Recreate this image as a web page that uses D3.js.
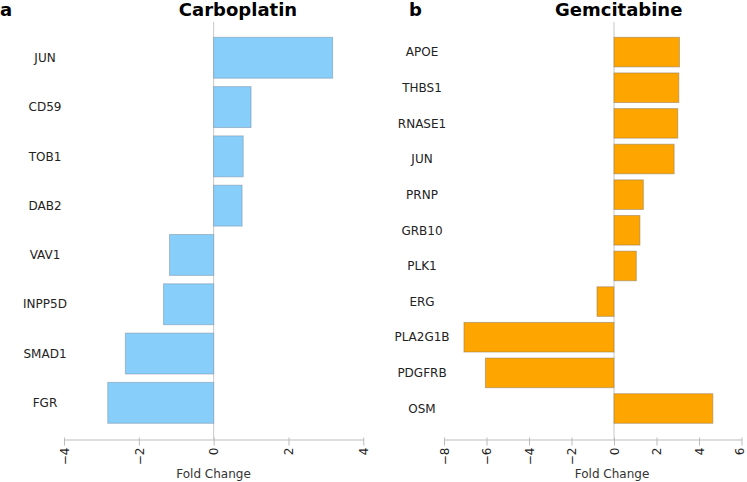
<!DOCTYPE html>
<html>
<head>
<meta charset="utf-8">
<script src="https://cdn.jsdelivr.net/npm/d3@7"></script>
<style>
  html, body { margin: 0; padding: 0; background: #fff; }
  text { font-family: "DejaVu Sans", Verdana, sans-serif; }
</style>
</head>
<body>
<svg id="chart" width="747" height="482"></svg>
<script>
// ---- data ----
const carboGenes = ["JUN", "CD59", "TOB1", "DAB2", "VAV1", "INPP5D", "SMAD1", "FGR"];
const carboValues = [3.18, 1.0, 0.79, 0.76, -1.18, -1.34, -2.36, -2.83];
const carboTicks = [-4, -2, 0, 2, 4];

const gemGenes = ["APOE", "THBS1", "RNASE1", "JUN", "PRNP", "GRB10", "PLK1", "ERG", "PLA2G1B", "PDGFRB", "OSM"];
const gemValues = [3.08, 3.05, 3.0, 2.83, 1.38, 1.22, 1.05, -0.8, -7.06, -6.05, 4.65];
const gemTicks = [-8, -6, -4, -2, 0, 2, 4, 6];

const svg = d3.select("#chart");

function panel(opts) {
  const { genes, values, ticks, domain, xRange, labelX, title, titleX, letter, letterX, fill, stroke, axisTitleX } = opts;
  const g = svg.append("g");
  const x = d3.scaleLinear().domain(domain).range(xRange);
  const y = d3.scaleBand().domain(genes).range([37.3, 423.3]).paddingInner(0.17).paddingOuter(0);

  // zero line
  g.append("line")
    .attr("x1", x(0)).attr("x2", x(0))
    .attr("y1", 22).attr("y2", 439.5)
    .attr("stroke", "#c8c8c8").attr("stroke-width", 1);

  // bars
  g.selectAll("rect.bar").data(genes).enter().append("rect")
    .attr("class", "bar")
    .attr("x", (d, i) => x(Math.min(0, values[i])))
    .attr("width", (d, i) => Math.abs(x(values[i]) - x(0)))
    .attr("y", d => y(d))
    .attr("height", y.bandwidth())
    .attr("fill", fill)
    .attr("stroke", stroke)
    .attr("stroke-width", 1);

  // gene labels
  g.selectAll("text.gene").data(genes).enter().append("text")
    .attr("class", "gene")
    .attr("x", labelX)
    .attr("y", d => y(d) + y.bandwidth() / 2)
    .attr("dy", "0.35em")
    .attr("text-anchor", "middle")
    .attr("font-size", 12)
    .attr("fill", "#222")
    .text(d => d);

  // x axis
  const axis = d3.axisBottom(x).tickValues(ticks).tickSize(6).tickSizeOuter(0).tickFormat(d3.format("d"));
  const ax = g.append("g").attr("transform", "translate(0,439.5)").call(axis);
  ax.select(".domain").attr("stroke", "#bbb");
  ax.selectAll(".tick line").attr("stroke", "#bbb").attr("y1", -2);
  ax.selectAll(".tick text")
    .attr("font-family", "DejaVu Sans, Verdana, sans-serif")
    .attr("font-size", 12)
    .attr("fill", "#222")
    .attr("transform", "rotate(-90)")
    .attr("text-anchor", "end")
    .attr("x", -8)
    .attr("y", (d, i, n) => (x(d) > 735 ? -2.5 : 0))
    .attr("dy", "0.35em");

  // axis title
  g.append("text")
    .attr("x", axisTitleX).attr("y", 478)
    .attr("text-anchor", "middle")
    .attr("font-size", 12)
    .attr("fill", "#333")
    .text("Fold Change");

  // title
  g.append("text")
    .attr("x", titleX).attr("y", 16)
    .attr("text-anchor", "middle")
    .attr("font-size", 18)
    .attr("font-weight", "bold")
    .attr("fill", "#000")
    .text(title);

  g.append("text")
    .attr("x", letterX).attr("y", 16)
    .attr("font-size", 18)
    .attr("font-weight", "bold")
    .attr("fill", "#000")
    .text(letter);
}

panel({
  genes: carboGenes, values: carboValues, ticks: carboTicks,
  domain: [-4, 4], xRange: [64, 363.3], labelX: 45,
  title: "Carboplatin", titleX: 238, letter: "a", letterX: 0,
  fill: "#87CEFA", stroke: "rgba(110,130,150,0.45)", axisTitleX: 213.5
});

panel({
  genes: gemGenes, values: gemValues, ticks: gemTicks,
  domain: [-8, 6], xRange: [444, 741.5], labelX: 422,
  title: "Gemcitabine", titleX: 618.7, letter: "b", letterX: 409,
  fill: "#FFA500", stroke: "rgba(140,120,90,0.5)", axisTitleX: 612
});
</script>
</body>
</html>
